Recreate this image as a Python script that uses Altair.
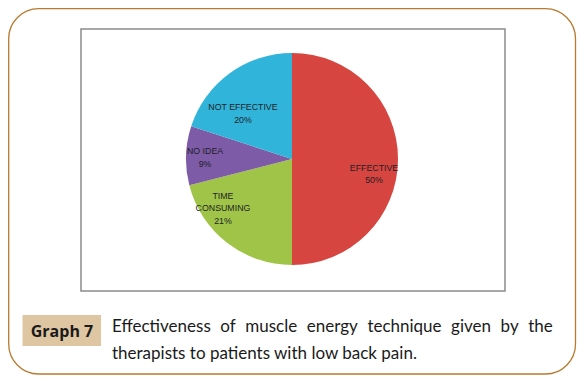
import altair as alt
import pandas as pd

# ---- data ----
categories = ["EFFECTIVE", "TIME CONSUMING", "NO IDEA", "NOT EFFECTIVE"]
label_lines = ["EFFECTIVE", "TIME\nCONSUMING", "NO IDEA", "NOT EFFECTIVE"]
percents = [50, 21, 9, 20]
colors = ["#D6453F", "#A0C447", "#7D5BA7", "#31B4D9"]
caption_tag = "Graph 7"
caption_lines = [
    "Effectiveness of muscle energy technique given by the",
    "therapists to patients with low back pain.",
]

# ---- layout (label nudges, like Excel "best fit") ----
label_nudge = {
    "EFFECTIVE": (2, 15),
    "TIME CONSUMING": (-20, -14),
    "NO IDEA": (-7, 1),
    "NOT EFFECTIVE": (-2, 19),
}
LH = 12.5

df = pd.DataFrame({
    "cat": categories,
    "value": percents,
    "idx": list(range(len(categories))),
    "label": [f"{l}\n{p}%" for l, p in zip(label_lines, percents)],
})
one = alt.Data(values=[{}])

CX, CY = 284, 151  # pie centre inside the view

outer = alt.Chart(one).mark_rect(
    fillOpacity=0, stroke="#B87A2E", strokeWidth=1.3, cornerRadius=30
).encode(x=alt.value(0.7), x2=alt.value(567.5), y=alt.value(0.7), y2=alt.value(366))

inner = alt.Chart(one).mark_rect(
    fill="white", stroke="#8C8C8C", strokeWidth=1.5
).encode(x=alt.value(73), x2=alt.value(497), y=alt.value(21), y2=alt.value(283))

base = alt.Chart(df).encode(
    theta=alt.Theta("value:Q", stack=True),
    order=alt.Order("idx:Q"),
)
pie = base.mark_arc(outerRadius=106).encode(
    color=alt.Color("cat:N", scale=alt.Scale(domain=categories, range=colors), legend=None),
    x=alt.value(CX), y=alt.value(CY),
)

label_layers = []
for c, lab in zip(categories, df["label"]):
    dx, dy = label_nudge[c]
    nlines = lab.count("\n") + 1
    dy = dy - (nlines - 1) * LH / 2
    label_layers.append(
        base.mark_text(
            radius=80, dx=dx, dy=dy, lineBreak="\n", font="Liberation Sans", fontSize=8.8,
            color="#1E1E28", align="center", baseline="middle", lineHeight=LH,
        ).encode(
            text=alt.condition(f"datum.cat == '{c}'", alt.Text("label:N"), alt.value("")),
            detail="cat:N",
            x=alt.value(CX), y=alt.value(CY),
        )
    )

tag_box = alt.Chart(one).mark_rect(fill="#DFC6A2").encode(
    x=alt.value(14.5), x2=alt.value(93), y=alt.value(307), y2=alt.value(338)
)
tag_text = alt.Chart(pd.DataFrame({"t": [caption_tag]})).mark_text(
    font="Open Sans", fontWeight="bold", fontSize=16, color="#1A1A1A",
    align="center", baseline="alphabetic",
).encode(text="t:N", x=alt.value(54), y=alt.value(329))

# first line is justified in the original: widen its word gaps
line1 = caption_lines[0].replace(" ", "\u2002\u200a")
cap1 = alt.Chart(pd.DataFrame({"t": [line1]})).mark_text(
    font="Lato", fontSize=17, color="#1A1A1A", align="left", baseline="alphabetic"
).encode(text="t:N", x=alt.value(104), y=alt.value(323.5))
cap2 = alt.Chart(pd.DataFrame({"t": caption_lines[1:]})).mark_text(
    font="Lato", fontSize=17, color="#1A1A1A", align="left", baseline="alphabetic"
).encode(text="t:N", x=alt.value(104), y=alt.value(350.5))

chart = alt.layer(outer, inner, pie, *label_layers, tag_box, tag_text, cap1, cap2).properties(
    width=571, height=367, autosize=alt.AutoSizeParams(type="none"), padding=0,
    background="white",
).configure_view(stroke=None)

chart.save("out.html", embed_options={"renderer": "svg", "actions": False})
